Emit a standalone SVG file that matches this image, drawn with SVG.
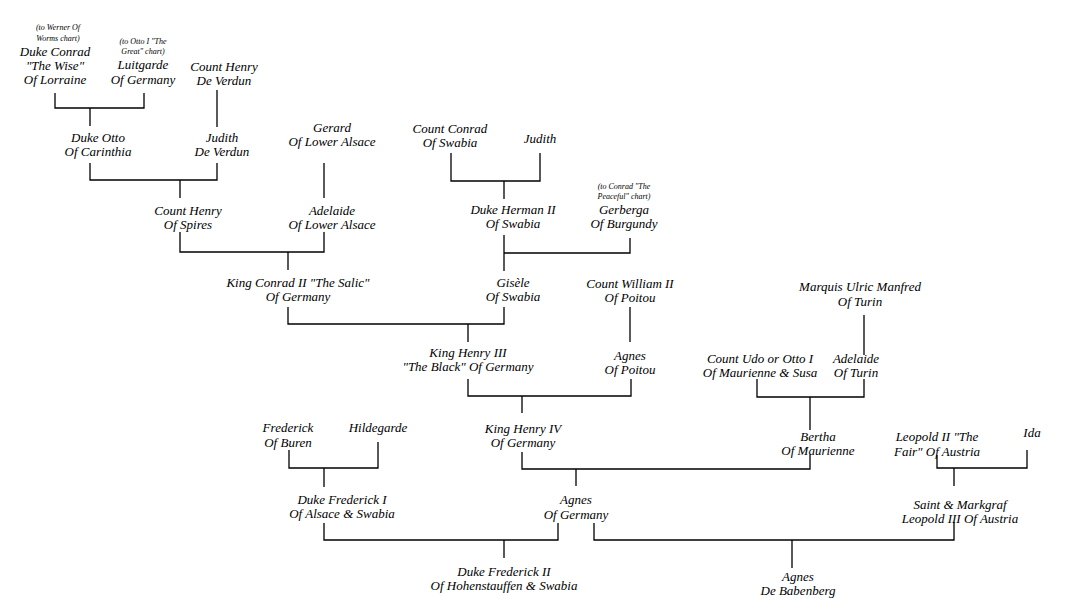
<svg xmlns="http://www.w3.org/2000/svg" width="1080" height="612" viewBox="0 0 1080 612">
<style>
text{font-family:"Liberation Serif","DejaVu Serif",serif;font-style:italic;font-size:13px;fill:#000;text-anchor:middle}
text.note{font-size:8px}
#connectors path{fill:none;stroke:#000;stroke-width:1.3}
</style>
<rect width="1080" height="612" fill="#fff"/>
<g id="connectors">
<path d="M55,93 V108 H144 V93 M90,108 V126"/>
<path d="M217,90 V127"/>
<path d="M90,163 V180 H217 V163 M180,180 V198"/>
<path d="M324,163 V198"/>
<path d="M180,232 V252 H324 V232 M288,252 V270"/>
<path d="M451,153 V181 H540 V153 M504,181 V199"/>
<path d="M504,235 V271 M504,253 H630 V238"/>
<path d="M288,307 V324 H504 V307 M468,324 V342"/>
<path d="M630,307 V342"/>
<path d="M468,379 V396 H631 V379 M522,396 V413"/>
<path d="M864,315 V355"/>
<path d="M757,379 V397 H864 V379 M810,397 V430"/>
<path d="M522,452 V469 H810 V455 M576,469 V486"/>
<path d="M289,450 V468 H378 V442 M324,468 V487"/>
<path d="M937,455 V468 H1027 V450 M954,468 V486"/>
<path d="M324,523 V540 H558 V523 M504,540 V558"/>
<path d="M594,523 V540 H954 V522 M792,540 V568"/>
</g>
<g id="conrad-wise"><text class="note" x="58" y="30">(to Werner Of</text><text class="note" x="58" y="41">Worms chart)</text><text x="55" y="56">Duke Conrad</text><text x="55" y="70">"The Wise"</text><text x="55" y="84">Of Lorraine</text></g>
<g id="luitgarde"><text class="note" x="143" y="44">(to Otto I "The</text><text class="note" x="143" y="54">Great" chart)</text><text x="143" y="69">Luitgarde</text><text x="143" y="84">Of Germany</text></g>
<g id="henry-verdun"><text x="224" y="71">Count Henry</text><text x="224" y="85">De Verdun</text></g>
<g id="duke-otto"><text x="98" y="142">Duke Otto</text><text x="98" y="156">Of Carinthia</text></g>
<g id="judith-verdun"><text x="222" y="142">Judith</text><text x="222" y="156">De Verdun</text></g>
<g id="gerard"><text x="332" y="132">Gerard</text><text x="332" y="146">Of Lower Alsace</text></g>
<g id="henry-spires"><text x="188" y="215">Count Henry</text><text x="188" y="229">Of Spires</text></g>
<g id="adelaide-alsace"><text x="332" y="215">Adelaide</text><text x="332" y="229">Of Lower Alsace</text></g>
<g id="conrad-swabia"><text x="450" y="133">Count Conrad</text><text x="450" y="147">Of Swabia</text></g>
<g id="judith"><text x="540" y="143">Judith</text></g>
<g id="herman"><text x="513" y="214">Duke Herman II</text><text x="513" y="228">Of Swabia</text></g>
<g id="gerberga"><text class="note" x="624" y="189">(to Conrad "The</text><text class="note" x="624" y="199">Peaceful" chart)</text><text x="624" y="214">Gerberga</text><text x="624" y="228">Of Burgundy</text></g>
<g id="conrad-salic"><text x="298" y="287">King Conrad II "The Salic"</text><text x="298" y="301">Of Germany</text></g>
<g id="gisele"><text x="513" y="287">Gisèle</text><text x="513" y="301">Of Swabia</text></g>
<g id="william"><text x="630" y="288">Count William II</text><text x="630" y="302">Of Poitou</text></g>
<g id="henry3"><text x="468" y="357">King Henry III</text><text x="468" y="371">"The Black" Of Germany</text></g>
<g id="agnes-poitou"><text x="630" y="360">Agnes</text><text x="630" y="374">Of Poitou</text></g>
<g id="ulric"><text x="860" y="291">Marquis Ulric Manfred</text><text x="860" y="306">Of Turin</text></g>
<g id="udo"><text x="760" y="363">Count Udo or Otto I</text><text x="760" y="377">Of Maurienne &amp; Susa</text></g>
<g id="adelaide-turin"><text x="856" y="363">Adelaide</text><text x="856" y="377">Of Turin</text></g>
<g id="henry4"><text x="523" y="433">King Henry IV</text><text x="523" y="447">Of Germany</text></g>
<g id="frederick-buren"><text x="288" y="432">Frederick</text><text x="288" y="447">Of Buren</text></g>
<g id="hildegarde"><text x="378" y="432">Hildegarde</text></g>
<g id="bertha"><text x="818" y="441">Bertha</text><text x="818" y="455">Of Maurienne</text></g>
<g id="leopold2"><text x="937" y="441">Leopold II "The</text><text x="937" y="456">Fair" Of Austria</text></g>
<g id="ida"><text x="1032" y="437">Ida</text></g>
<g id="frederick1"><text x="342" y="504">Duke Frederick I</text><text x="342" y="518">Of Alsace &amp; Swabia</text></g>
<g id="agnes-germany"><text x="576" y="504">Agnes</text><text x="576" y="519">Of Germany</text></g>
<g id="leopold3"><text x="960" y="509">Saint &amp; Markgraf</text><text x="960" y="523">Leopold III Of Austria</text></g>
<g id="frederick2"><text x="504" y="576">Duke Frederick II</text><text x="504" y="590">Of Hohenstauffen &amp; Swabia</text></g>
<g id="agnes-babenberg"><text x="798" y="581">Agnes</text><text x="798" y="595">De Babenberg</text></g>
</svg>
